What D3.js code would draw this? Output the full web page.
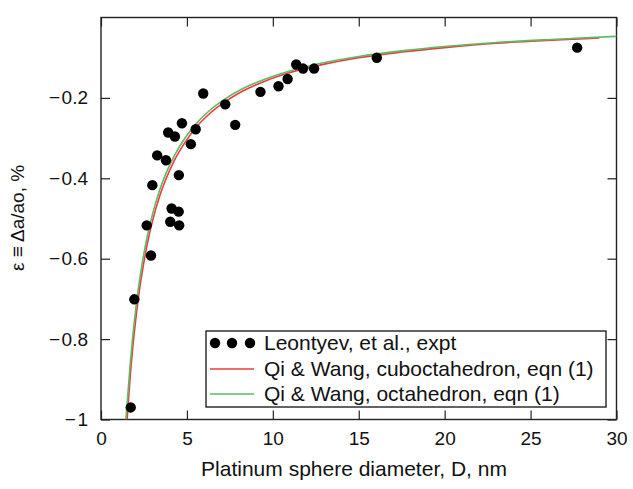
<!DOCTYPE html>
<html>
<head>
<meta charset="utf-8">
<script src="https://cdn.jsdelivr.net/npm/d3@7"></script>
<style>
  body { margin: 0; background: #fff; }
  text { font-family: "Liberation Sans", Arial, sans-serif; fill: #111; }
</style>
</head>
<body>
<div id="chart"></div>
<script>
// measured points (Leontyev et al.)
const exptD = [1.73, 1.94, 2.66, 2.91, 2.99, 3.27, 3.78, 3.91, 4.03, 4.11, 4.30, 4.52, 4.53, 4.55,
               4.71, 5.23, 5.51, 5.95, 7.23, 7.81, 9.28, 10.33, 10.86, 11.36, 11.76, 12.40, 16.05, 27.71];
const exptEps = [-0.970, -0.701, -0.517, -0.592, -0.417, -0.343, -0.355, -0.286, -0.508, -0.475, -0.296, -0.483, -0.392, -0.517,
                 -0.263, -0.315, -0.278, -0.189, -0.216, -0.267, -0.185, -0.171, -0.153, -0.117, -0.127, -0.127, -0.100, -0.075];

// model curves
const cuboD = [1.52, 1.6, 1.7, 1.85, 2.0, 2.2, 2.4, 2.7, 3.0, 3.4, 3.8, 4.3, 4.9, 5.5, 6.3, 7.2, 8.2, 9.5, 11, 13, 15, 17.5, 20, 23, 26.5, 29];
const cuboEps = [-1.0, -0.951, -0.893, -0.820, -0.760, -0.690, -0.633, -0.562, -0.506, -0.446, -0.400, -0.353, -0.310, -0.275,
                 -0.240, -0.210, -0.184, -0.159, -0.137, -0.116, -0.100, -0.086, -0.075, -0.064, -0.056, -0.051];
const octaD = [1.45, 1.55, 1.7, 1.85, 2.0, 2.2, 2.4, 2.7, 3.0, 3.4, 3.8, 4.3, 4.9, 5.5, 6.3, 7.2, 8.2, 9.5, 11, 13, 15, 17.5, 20, 23, 26.5, 30];
const octaEps = [-1.0, -0.945, -0.862, -0.792, -0.734, -0.667, -0.611, -0.543, -0.489, -0.431, -0.386, -0.341, -0.299, -0.266,
                 -0.232, -0.203, -0.178, -0.154, -0.133, -0.112, -0.097, -0.083, -0.072, -0.062, -0.054, -0.047];

const xTicks = [0, 5, 10, 15, 20, 25, 30];
const yTicks = [-1, -0.8, -0.6, -0.4, -0.2];
const legendLabels = ["Leontyev, et al., expt", "Qi & Wang, cuboctahedron, eqn (1)", "Qi & Wang, octahedron, eqn (1)"];

const W = 633, H = 489;
const margin = { top: 17.5, right: 16.5, bottom: 69.5, left: 101 };
const width = W - margin.left - margin.right;
const height = H - margin.top - margin.bottom;
const red = "#ee3a3a", green = "#5cbb66";

const svg = d3.select("#chart").append("svg")
    .attr("width", W).attr("height", H);
svg.append("rect").attr("width", W).attr("height", H).attr("fill", "#fff");

const g = svg.append("g").attr("transform", `translate(${margin.left},${margin.top})`);

const x = d3.scaleLinear().domain([0, 30]).range([0, width]);
const y = d3.scaleLinear().domain([-1, 0]).range([height, 0]);

g.append("defs").append("clipPath").attr("id", "clip")
    .append("rect").attr("width", width).attr("height", height);

const fmtY = d => "\u2212\u200a" + d3.format("")(Math.abs(d));

// axes with inward ticks, mirrored on top/right
const styleAxis = sel => {
    sel.select(".domain").remove();
    sel.selectAll(".tick line").attr("stroke", "#222").attr("stroke-width", 1.2);
    sel.selectAll("text").style("font-size", "19px").attr("fill", "#111");
};
g.append("g").attr("transform", `translate(0,${height})`)
    .call(d3.axisBottom(x).tickValues(xTicks).tickSizeInner(-9).tickSizeOuter(0).tickPadding(12))
    .call(styleAxis);
g.append("g")
    .call(d3.axisTop(x).tickValues(xTicks).tickSizeInner(-9).tickSizeOuter(0).tickFormat(""))
    .call(styleAxis);
g.append("g")
    .call(d3.axisLeft(y).tickValues(yTicks).tickSizeInner(-9).tickSizeOuter(0).tickPadding(13).tickFormat(fmtY))
    .call(styleAxis);
g.append("g").attr("transform", `translate(${width},0)`)
    .call(d3.axisRight(y).tickValues(yTicks).tickSizeInner(-9).tickSizeOuter(0).tickFormat(""))
    .call(styleAxis);

g.append("rect").attr("width", width).attr("height", height)
    .attr("fill", "none").attr("stroke", "#222").attr("stroke-width", 1.4);

// curves
const line = d3.line().x(d => x(d[0])).y(d => y(d[1])).curve(d3.curveMonotoneX);
const plot = g.append("g").attr("clip-path", "url(#clip)");
plot.append("path").datum(d3.zip(cuboD, cuboEps))
    .attr("d", line).attr("fill", "none").attr("stroke", red).attr("stroke-width", 1.6);
plot.append("path").datum(d3.zip(octaD, octaEps))
    .attr("d", line).attr("fill", "none").attr("stroke", green).attr("stroke-width", 1.6);

// points
g.selectAll("circle.pt").data(d3.zip(exptD, exptEps)).enter()
    .append("circle").attr("class", "pt")
    .attr("cx", d => x(d[0])).attr("cy", d => y(d[1]))
    .attr("r", 5.2).attr("fill", "#000");

// axis labels
svg.append("text")
    .attr("x", 354).attr("y", 476)
    .attr("text-anchor", "middle").style("font-size", "21px")
    .text("Platinum sphere diameter, D, nm");
svg.append("text")
    .attr("transform", "translate(24,218) rotate(-90)")
    .attr("text-anchor", "middle").style("font-size", "19px")
    .text("\u03b5 \u2261 \u0394a/ao, %");

// legend
const lg = svg.append("g").attr("transform", "translate(206,331)");
lg.append("rect").attr("width", 400).attr("height", 76)
    .attr("fill", "#fff").attr("stroke", "#222").attr("stroke-width", 1.4);
const rowY = [12, 38, 63];
[9, 26, 44].forEach(cx => {
    lg.append("circle").attr("cx", cx).attr("cy", rowY[0]).attr("r", 5.2).attr("fill", "#000");
});
lg.append("line").attr("x1", 4).attr("x2", 48).attr("y1", rowY[1]).attr("y2", rowY[1])
    .attr("stroke", red).attr("stroke-width", 1.6);
lg.append("line").attr("x1", 4).attr("x2", 48).attr("y1", rowY[2]).attr("y2", rowY[2])
    .attr("stroke", green).attr("stroke-width", 1.6);
lg.selectAll("text.lbl").data(legendLabels).enter()
    .append("text").attr("class", "lbl")
    .attr("x", 58).attr("y", (d, i) => rowY[i] + 7)
    .style("font-size", "21px")
    .text(d => d);
</script>
</body>
</html>
